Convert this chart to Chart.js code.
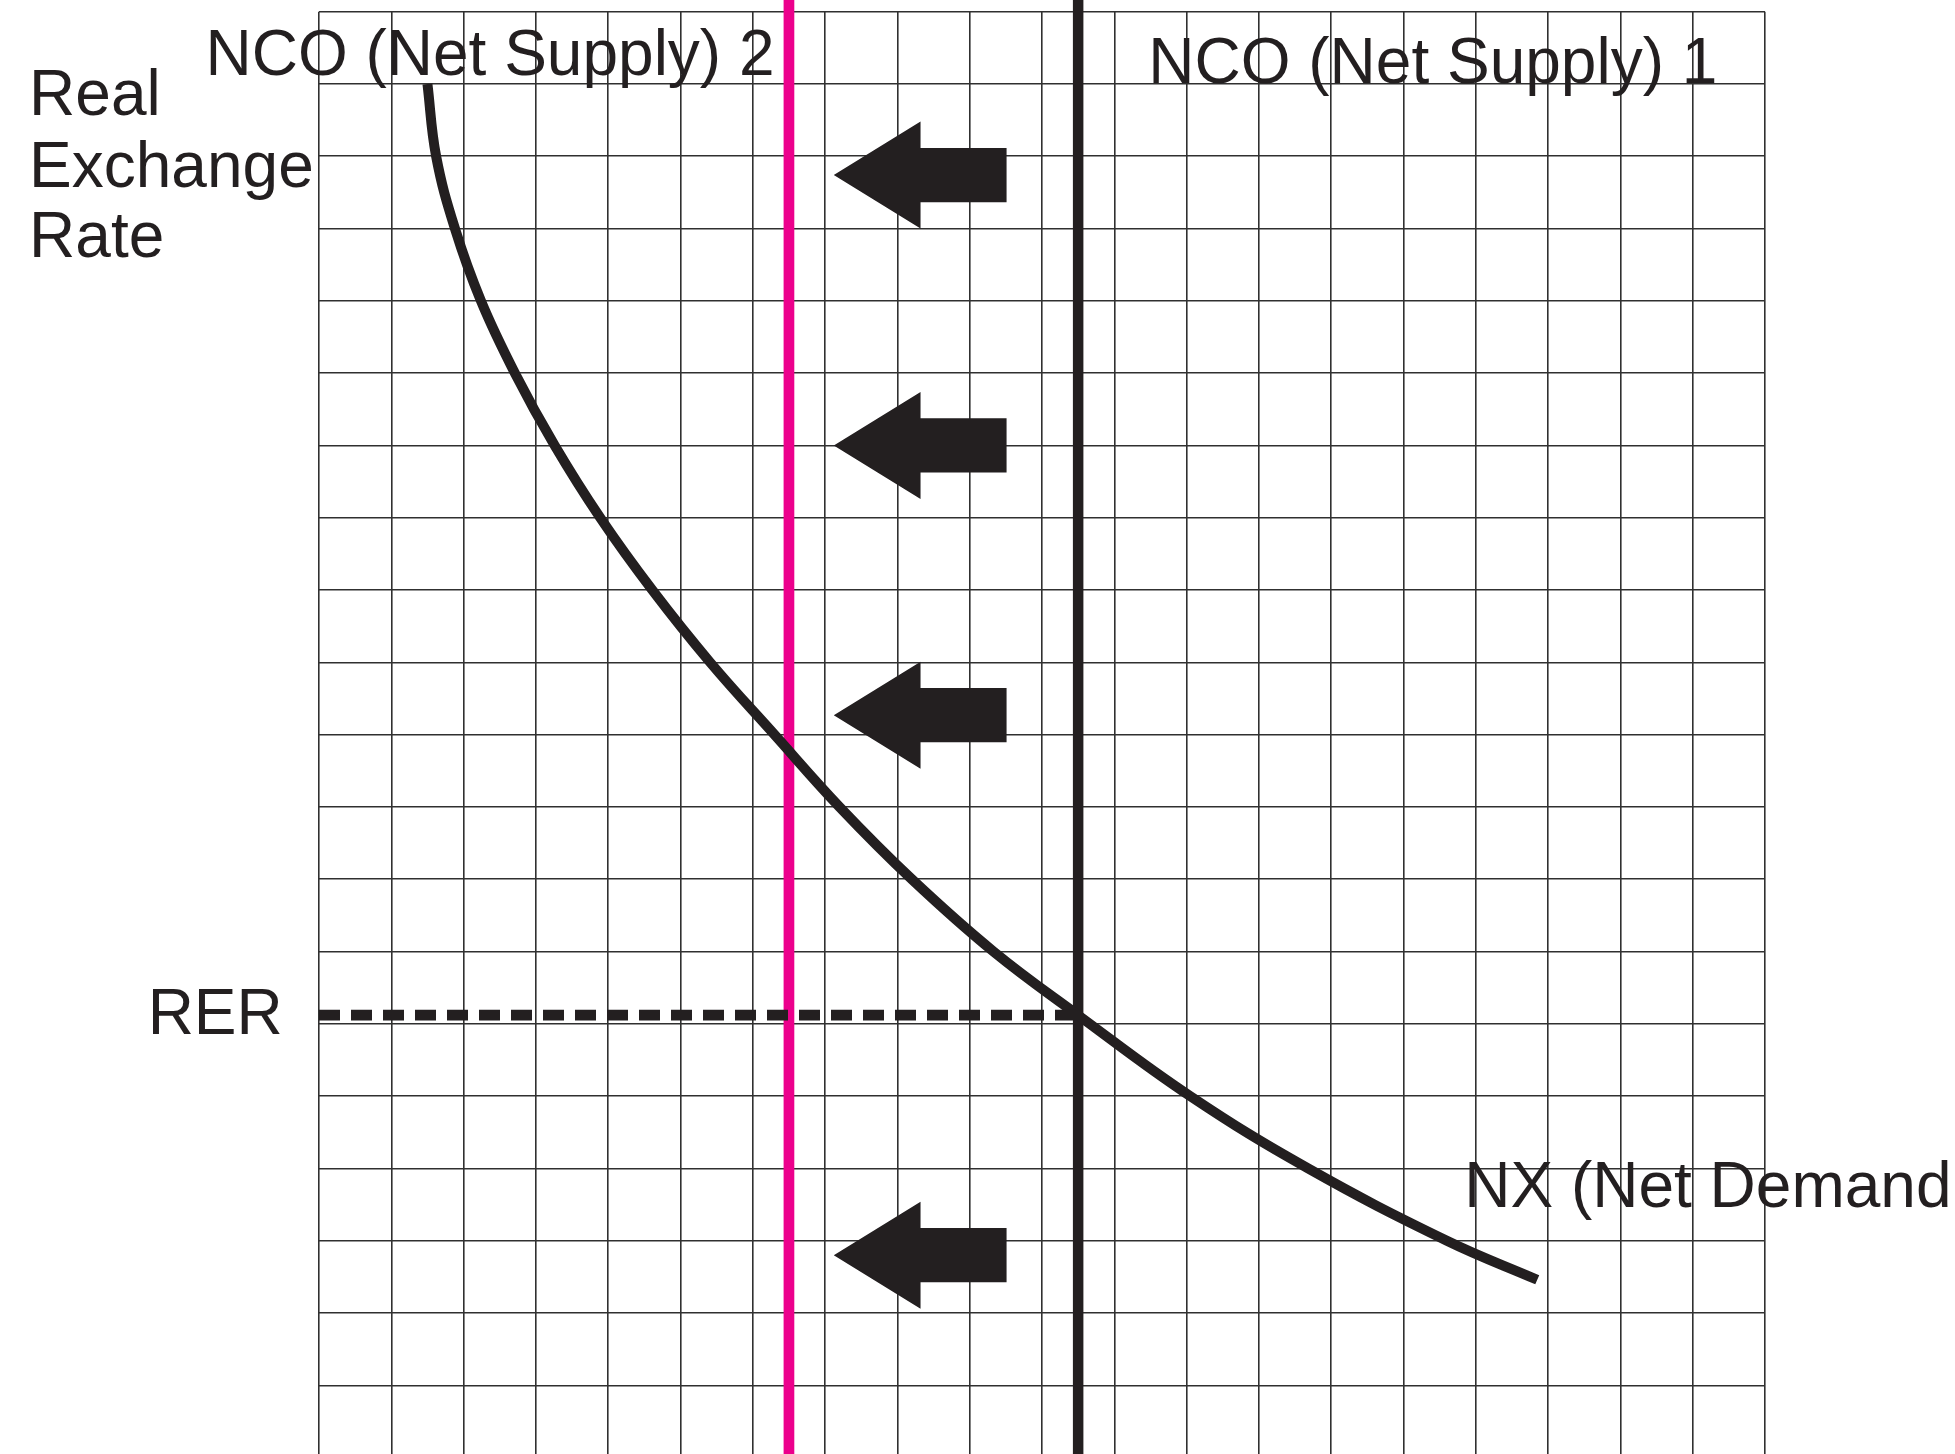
<!DOCTYPE html>
<html>
<head>
<meta charset="utf-8">
<script src="https://cdn.jsdelivr.net/npm/chart.js@4.4.1/dist/chart.umd.min.js"></script>
<style>
  html, body { margin: 0; padding: 0; background: #fff; overflow: hidden; }
  #wrap { width: 1955px; height: 1454px; position: relative; }
</style>
</head>
<body>
<div id="wrap"><canvas id="chart"></canvas></div>
<script>
// NX (net demand) curve
const nxX = [1.5, 1.62, 1.88, 2.24, 2.71, 3.26, 3.89, 4.61, 5.41, 6.3, 7.2, 8.2, 9.33, 10.5, 12.05, 13.68, 15.6, 16.85];
const nxY = [19, 18, 17, 16, 15, 14, 13, 12, 11, 10, 9, 8, 7, 6.12, 5, 4, 3, 2.46];

// vertical NCO supply lines and the RER level
const nco1X = 10.5;
const nco2X = 6.5;
const rerY = 6.12;

// left pointing shift arrows (centre rows)
const arrowRows = [17.74, 14.0, 10.27, 2.8];
const arrowTip = 7.12, arrowNeck = 8.32, arrowTail = 9.51;
const arrowHead = 0.74, arrowBody = 0.375;

const xMin = 0, xMax = 20, yMin = 0.05, yMax = 20;
const yTop = 20.2; // vertical lines run past the top grid line

const ink = '#231f20';
const pink = '#ec008c';
const gridInk = '#303030';

const labels = [
  { text: 'Real', x: -4.01, y: 18.57 },
  { text: 'Exchange', x: -4.01, y: 17.58 },
  { text: 'Rate', x: -4.01, y: 16.61 },
  { text: 'NCO (Net Supply) 2', x: -1.57, y: 19.13 },
  { text: 'NCO (Net Supply) 1', x: 11.47, y: 19.02 },
  { text: 'RER', x: -2.37, y: 5.86 },
  { text: 'NX (Net Demand', x: 15.84, y: 3.47 }
];

function arrowShape(c) {
  return [
    { x: arrowTip, y: c },
    { x: arrowNeck, y: c + arrowHead },
    { x: arrowNeck, y: c + arrowBody },
    { x: arrowTail, y: c + arrowBody },
    { x: arrowTail, y: c - arrowBody },
    { x: arrowNeck, y: c - arrowBody },
    { x: arrowNeck, y: c - arrowHead },
    { x: arrowTip, y: c }
  ];
}

const labelPlugin = {
  id: 'textLabels',
  afterDatasetsDraw(chart) {
    const { ctx, scales: { x, y } } = chart;
    ctx.save();
    ctx.font = '64px "Liberation Sans", Arial, sans-serif';
    ctx.fillStyle = ink;
    ctx.textBaseline = 'alphabetic';
    ctx.textAlign = 'left';
    labels.forEach(l => ctx.fillText(l.text, x.getPixelForValue(l.x), y.getPixelForValue(l.y)));
    ctx.restore();
  }
};

const datasets = [
  {
    label: 'RER',
    data: [{ x: xMin, y: rerY }, { x: nco1X, y: rerY }],
    borderColor: ink, borderWidth: 10.7, borderDash: [21, 11], borderCapStyle: 'butt',
    pointRadius: 0
  },
  {
    label: 'NX (Net Demand)',
    data: nxX.map((v, i) => ({ x: v, y: nxY[i] })),
    borderColor: ink, borderWidth: 10, tension: 0.4,
    pointRadius: 0
  },
  {
    label: 'NCO (Net Supply) 1',
    data: [{ x: nco1X, y: yMin }, { x: nco1X, y: yTop }],
    borderColor: ink, borderWidth: 10.5, pointRadius: 0, clip: false
  },
  {
    label: 'NCO (Net Supply) 2',
    data: [{ x: nco2X, y: yMin }, { x: nco2X, y: yTop }],
    borderColor: pink, borderWidth: 10.7, pointRadius: 0, clip: false
  }
];

arrowRows.forEach((c, i) => {
  datasets.push({
    label: 'shift ' + (i + 1),
    data: arrowShape(c),
    fill: 'shape',
    backgroundColor: ink,
    borderColor: 'rgba(0,0,0,0)',
    borderWidth: 1,
    pointRadius: 0
  });
});

new Chart(document.getElementById('chart').getContext('2d'), {
  type: 'line',
  data: { datasets },
  options: {
    responsive: true,
    maintainAspectRatio: false,
    animation: false,
    layout: { padding: { left: 319, right: 190, top: 11.7, bottom: 0 } },
    scales: {
      x: {
        type: 'linear', min: xMin, max: xMax,
        ticks: { display: false, stepSize: 1, maxTicksLimit: 100 },
        grid: { color: gridInk, lineWidth: 1.6, drawTicks: false },
        border: { display: false }
      },
      y: {
        type: 'linear', min: yMin, max: yMax,
        ticks: { display: false, stepSize: 1, maxTicksLimit: 100, includeBounds: false },
        grid: { color: gridInk, lineWidth: 1.6, drawTicks: false },
        border: { display: false }
      }
    },
    plugins: {
      legend: { display: false },
      tooltip: { enabled: false }
    }
  },
  plugins: [labelPlugin]
});
</script>
</body>
</html>
